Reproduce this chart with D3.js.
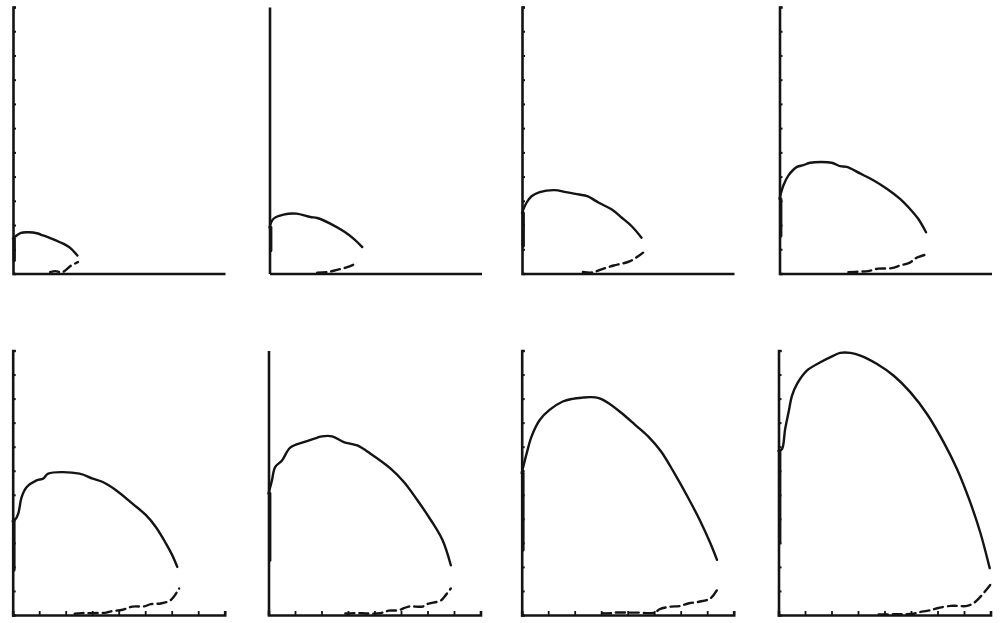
<!DOCTYPE html>
<html><head><meta charset="utf-8">
<script src="https://cdn.jsdelivr.net/npm/d3@7"></script>
<style>html,body{margin:0;padding:0;background:#fff;}svg{display:block;}</style>
</head><body>
<svg id="chart" width="1003" height="623"></svg>
<script>
// ---- data (x: 0..8, y: 0..11) ----
const xTicks = [0,1,2,3,4,5,6,7,8];
const yTicks = [0,1,2,3,4,5,6,7,8,9,10,11];

const solid1 = [[0,0.54],[0,1.44],[0.08,1.52],[0.3,1.68],[0.6,1.70],[0.9,1.66],[1.14,1.57],[1.5,1.42],[1.77,1.29],[2.0,1.17],[2.2,1.02],[2.43,0.74]];
const dashed1 = [[1.4,0.06],[1.6,0.1],[1.85,0.05],[2.2,0.33],[2.45,0.47]];

const solid2 = [[0,0.95],[0,1.9],[0.15,2.26],[0.53,2.43],[1.01,2.47],[1.54,2.33],[1.80,2.29],[2.31,2.05],[2.80,1.74],[3.18,1.43],[3.50,1.09]];
const dashed2 = [[1.8,0.03],[2.2,0.06],[2.55,0.15],[2.93,0.26],[3.3,0.43]];

const solid3 = [[0,1.13],[0,2.5],[0.17,2.92],[0.36,3.19],[0.67,3.36],[1.23,3.44],[1.66,3.36],[2.16,3.26],[2.46,3.19],[2.90,2.92],[3.39,2.64],[3.77,2.30],[4.14,1.95],[4.51,1.48]];
const dashed3 = [[2.3,0.06],[2.65,0.04],[3.0,0.17],[3.46,0.33],[4.08,0.51],[4.57,0.86]];

const solid4 = [[0,1.55],[0,3.08],[0.15,3.64],[0.34,4.05],[0.66,4.40],[0.90,4.47],[1.16,4.57],[1.97,4.57],[2.29,4.43],[2.54,4.40],[3.04,4.13],[3.54,3.85],[4.05,3.5],[4.55,3.08],[4.92,2.67],[5.24,2.25],[5.53,1.70]];
const dashed4 = [[2.6,0.05],[3.04,0.08],[3.34,0.1],[3.72,0.2],[4.23,0.22],[4.55,0.33],[4.92,0.45],[5.17,0.65],[5.55,0.79]];

const solid5 = [[0,1.87],[0,3.9],[0.09,3.96],[0.21,4.22],[0.34,4.91],[0.53,5.32],[0.9,5.6],[1.15,5.67],[1.34,5.88],[2.52,5.88],[3.02,5.67],[3.40,5.53],[3.90,5.19],[4.52,4.63],[5.03,4.15],[5.40,3.66],[5.78,2.98],[6.02,2.49],[6.21,2.0]];
const dashed5 = [[2.34,0.05],[2.59,0.08],[2.96,0.08],[3.53,0.1],[3.71,0.15],[4.15,0.22],[4.52,0.35],[4.96,0.36],[5.21,0.45],[5.59,0.48],[5.96,0.62],[6.28,1.1]];

const solid6 = [[0,2.28],[0,5.05],[0.13,5.6],[0.25,6.15],[0.51,6.43],[0.82,6.96],[1.33,7.19],[1.83,7.37],[2.02,7.43],[2.40,7.43],[2.84,7.19],[3.35,7.05],[3.85,6.71],[4.61,6.09],[5.11,5.53],[5.62,4.77],[6.13,3.94],[6.57,3.11],[6.88,2.07]];
const dashed6 = [[2.9,0.06],[3.35,0.08],[3.73,0.06],[4.23,0.08],[4.53,0.18],[4.91,0.2],[5.29,0.35],[5.81,0.35],[6.0,0.46],[6.5,0.6],[6.64,0.76],[6.88,1.1]];

const solid7 = [[0,2.7],[0,5.9],[0.06,6.17],[0.19,6.73],[0.37,7.42],[0.68,8.11],[1.05,8.53],[1.55,8.88],[1.92,8.99],[2.29,9.04],[2.6,9.06],[2.91,9.02],[3.28,8.81],[3.78,8.39],[4.28,7.91],[4.78,7.42],[5.26,6.80],[5.76,5.90],[6.26,4.92],[6.75,3.88],[7.12,2.98],[7.37,2.29]];
const dashed7 = [[3.03,0.07],[3.47,0.08],[3.53,0.1],[4.09,0.1],[4.33,0.1],[5.02,0.1],[5.2,0.24],[5.64,0.35],[5.95,0.37],[6.32,0.49],[6.69,0.55],[7.12,0.69],[7.37,1.04]];

const solid8 = [[0,3.0],[0,6.82],[0.13,6.89],[0.25,7.73],[0.38,8.43],[0.51,9.12],[0.70,9.61],[1.07,10.16],[1.58,10.51],[2.08,10.79],[2.33,10.90],[2.71,10.90],[3.09,10.79],[3.72,10.44],[4.35,9.95],[4.98,9.26],[5.61,8.35],[6.24,7.17],[6.74,6.06],[7.24,4.67],[7.62,3.41],[7.97,1.95]];
const dashed8 = [[3.78,0.02],[4.35,0.03],[4.47,0.03],[5.10,0.05],[5.23,0.1],[5.73,0.2],[5.99,0.28],[6.49,0.38],[6.74,0.38],[7.12,0.38],[7.43,0.55],[7.99,1.25]];

const solids = [solid1, solid2, solid3, solid4, solid5, solid6, solid7, solid8];
const dasheds = [dashed1, dashed2, dashed3, dashed4, dashed5, dashed6, dashed7, dashed8];

// ---- layout ----
const colLeft = [[13, 269.5, 522, 779.5], [12.7, 268.5, 521.7, 778.5]];
const rowTop = [7, 350.5];
const rowBottom = [273.5, 615];
const panelW = 212;
const showYTicks = [true, false, true, true, true, false, true, true];
const ink = "#141414";

const svg = d3.select("#chart");
svg.append("rect").attr("width", 1003).attr("height", 623).attr("fill", "#fff");

for (let i = 0; i < 8; i++) {
  const r = Math.floor(i / 4), c = i % 4;
  const x0 = colLeft[r][c];
  const x = d3.scaleLinear().domain([0, 8]).range([x0, x0 + panelW]);
  const y = d3.scaleLinear().domain([0, 11]).range([rowBottom[r], rowTop[r]]);
  const g = svg.append("g");

  // x axis
  const xa = d3.axisBottom(x).tickValues(xTicks).tickFormat("").tickSizeOuter(0)
    .tickSize(r === 1 ? -4 : 0);
  const gx = g.append("g").attr("transform", `translate(0,${rowBottom[r]})`).call(xa);
  gx.select(".domain").attr("stroke", ink).attr("stroke-width", 2.6);
  gx.selectAll(".tick line").attr("stroke", ink).attr("stroke-width", 1.8);

  // y axis
  const ya = d3.axisLeft(y).tickValues(yTicks).tickFormat("").tickSizeOuter(0)
    .tickSize(showYTicks[i] ? -3 : 0);
  const gy = g.append("g").attr("transform", `translate(${x0},0)`).call(ya);
  gy.select(".domain").attr("stroke", ink).attr("stroke-width", 2.6);
  gy.selectAll(".tick line").attr("stroke", ink).attr("stroke-width", 2);

  const smooth = d3.line().x(d => x(d[0])).y(d => y(d[1])).curve(d3.curveCatmullRom.alpha(0.5));
  const straight = d3.line().x(d => x(d[0]) + 1.2).y(d => y(d[1]));

  // segment running up along the vertical axis
  g.append("path").datum(solids[i].slice(0, 2)).attr("d", straight)
    .attr("fill", "none").attr("stroke", ink).attr("stroke-width", 3.4)
    .attr("stroke-linecap", "round");

  // arching curve
  g.append("path").datum(solids[i].slice(1)).attr("d", smooth)
    .attr("fill", "none").attr("stroke", ink).attr("stroke-width", 2.4)
    .attr("stroke-linejoin", "round").attr("stroke-linecap", "round");

  // dashed return curve
  g.append("path").datum(dasheds[i]).attr("d", smooth)
    .attr("fill", "none").attr("stroke", ink).attr("stroke-width", 2.4)
    .attr("stroke-dasharray", "9,5").attr("stroke-linecap", "round");
}
</script>
</body></html>
